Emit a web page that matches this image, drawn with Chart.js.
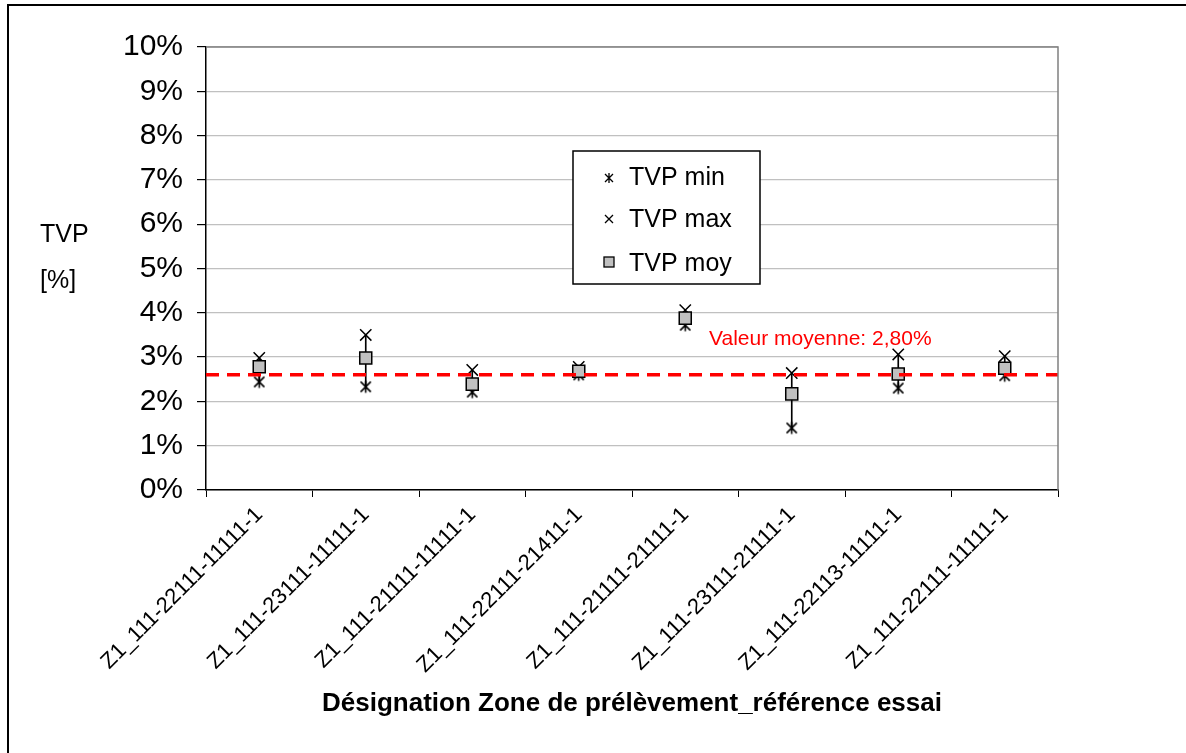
<!DOCTYPE html>
<html>
<head>
<meta charset="utf-8">
<script src="https://cdn.jsdelivr.net/npm/chart.js@4"></script>
<style>
  html, body { margin: 0; padding: 0; background: #fff; }
  #wrap { width: 1186px; height: 753px; }
</style>
</head>
<body>
<div id="wrap"><canvas id="tvpChart" width="1186" height="753"></canvas></div>
<script>
const zones = [
  "Z1_111-22111-11111-1", "Z1_111-23111-11111-1", "Z1_111-21111-11111-1", "Z1_111-22111-21411-1",
  "Z1_111-21111-21111-1", "Z1_111-23111-21111-1", "Z1_111-22113-11111-1", "Z1_111-22111-11111-1"
];
const tvpMin = [2.44, 2.33, 2.21, 2.60, 3.72, 1.40, 2.30, 2.58];
const tvpMax = [2.98, 3.50, 2.71, 2.78, 4.06, 2.64, 3.06, 3.02];
const tvpMoy = [2.78, 2.98, 2.39, 2.68, 3.88, 2.17, 2.62, 2.75];
const meanLine = 2.6;
const meanLabel = "Valeur moyenne: 2,80%";
const yTicks = [0, 1, 2, 3, 4, 5, 6, 7, 8, 9, 10];

const FONT = "'Liberation Sans', Arial, sans-serif";

// star marker (x with a vertical bar) like the spreadsheet one
function starMarker(size) {
    let c = document.createElement("canvas");
    c.width = size; c.height = size;
    let g = c.getContext("2d");
    let m = size / 2, r = size / 2 - 1.5;
    g.strokeStyle = "#000";
    g.lineWidth = 1.6;
    g.beginPath();
    g.moveTo(m - r * 0.85, m - r * 0.85); g.lineTo(m + r * 0.85, m + r * 0.85);
    g.moveTo(m + r * 0.85, m - r * 0.85); g.lineTo(m - r * 0.85, m + r * 0.85);
    g.moveTo(m, m - r); g.lineTo(m, m + r);
    g.stroke();
    return c;
}

const extras = {
    id: "extras",
    beforeDraw(chart) {
        let ctx = chart.ctx;
        ctx.save();
        ctx.strokeStyle = "#000";
        ctx.lineWidth = 2;
        ctx.strokeRect(8, 5, 1300, 900);
        ctx.restore();
    },
    afterDatasetsDraw(chart) {
        let ctx = chart.ctx, a = chart.chartArea;
        let y = chart.scales.y.getPixelForValue(meanLine);
        ctx.save();
        ctx.strokeStyle = "#ff0000";
        ctx.lineWidth = 3.5;
        ctx.setLineDash([13, 8]);
        ctx.beginPath();
        ctx.moveTo(a.left, y);
        ctx.lineTo(a.right, y);
        ctx.stroke();
        ctx.restore();
    },
    afterDraw(chart) {
        let ctx = chart.ctx, a = chart.chartArea;
        ctx.save();
        // plot area frame (top/right)
        ctx.strokeStyle = "#808080";
        ctx.lineWidth = 1.5;
        ctx.beginPath();
        ctx.moveTo(a.left, a.top); ctx.lineTo(a.right, a.top); ctx.lineTo(a.right, a.bottom);
        ctx.stroke();

        ctx.fillStyle = "#ff0000";
        ctx.font = "21px " + FONT;
        ctx.textAlign = "left";
        ctx.textBaseline = "middle";
        ctx.fillText(meanLabel, 709, 339);

        ctx.fillStyle = "#000";
        ctx.font = "25px " + FONT;
        ctx.fillText("TVP", 40, 235);
        ctx.fillText("[%]", 40, 281);

        ctx.font = "bold 26px " + FONT;
        ctx.textAlign = "center";
        ctx.fillText("Désignation Zone de prélèvement_référence essai", 632, 704);

        // legend
        ctx.fillStyle = "#fff";
        ctx.fillRect(573, 151, 187, 133);
        ctx.strokeStyle = "#000";
        ctx.lineWidth = 1.5;
        ctx.strokeRect(573, 151, 187, 133);
        ctx.fillStyle = "#000";
        ctx.font = "25px " + FONT;
        ctx.textAlign = "left";
        ctx.fillText("TVP min", 629, 178);
        ctx.fillText("TVP max", 629, 220);
        ctx.fillText("TVP moy", 629, 264);
        ctx.lineWidth = 1.3;
        ctx.beginPath();
        ctx.moveTo(605, 174); ctx.lineTo(613, 182);
        ctx.moveTo(613, 174); ctx.lineTo(605, 182);
        ctx.moveTo(609, 173); ctx.lineTo(609, 183);
        ctx.moveTo(605, 215); ctx.lineTo(613, 223);
        ctx.moveTo(613, 215); ctx.lineTo(605, 223);
        ctx.stroke();
        ctx.fillStyle = "#c0c0c0";
        ctx.fillRect(604, 257, 10, 10);
        ctx.strokeRect(604, 257, 10, 10);
        ctx.restore();
    }
};

let tvpCanvas = document.getElementById("tvpChart");
let tvpChart = new Chart(tvpCanvas, {
    type: "bar",
    data: {
        labels: zones,
        datasets: [
            {
                type: "line",
                label: "TVP moy",
                data: tvpMoy,
                showLine: false,
                pointStyle: "rect",
                pointRadius: 8.5,
                backgroundColor: "#c0c0c0",
                borderColor: "#000",
                pointBorderWidth: 1.5,
                order: 0,
            },
            {
                type: "line",
                label: "TVP max",
                data: tvpMax,
                showLine: false,
                pointStyle: "crossRot",
                pointRadius: 8,
                borderColor: "#000",
                pointBorderWidth: 1.5,
                order: 1,
            },
            {
                type: "line",
                label: "TVP min",
                data: tvpMin,
                showLine: false,
                pointStyle: starMarker(15),
                order: 2,
            },
            {
                type: "bar",
                label: "range",
                data: tvpMin.map((v, i) => [v, tvpMax[i]]),
                backgroundColor: "#000",
                barThickness: 1,
                order: 3,
            },
        ],
    },
    options: {
        responsive: false,
        animation: false,
        devicePixelRatio: 1,
        layout: { padding: { top: 47, right: 128, left: 0, bottom: 0 } },
        plugins: {
            legend: { display: false },
            tooltip: { enabled: false },
        },
        scales: {
            x: {
                offset: true,
                grid: { offset: true, drawOnChartArea: false, tickLength: 7, color: "#000", lineWidth: 1 },
                border: { color: "#000", width: 1.5 },
                ticks: {
                    minRotation: 45,
                    maxRotation: 45,
                    color: "#000",
                    padding: 5,
                    font: { family: FONT, size: 22 },
                },
                afterFit(scale) { scale.height = 263; },
            },
            y: {
                min: 0,
                max: 10,
                afterBuildTicks(scale) { scale.ticks = yTicks.map(v => ({ value: v })); },
                grid: { color: "#c0c0c0", tickColor: "#000", tickLength: 9, lineWidth: 1.2 },
                border: { color: "#000", width: 1.5 },
                ticks: {
                    color: "#000",
                    padding: 14,
                    font: { family: FONT, size: 30 },
                    callback: v => v + "%",
                },
                afterFit(scale) { scale.width = 206; },
            },
        },
    },
    plugins: [extras],
});
</script>
</body>
</html>
